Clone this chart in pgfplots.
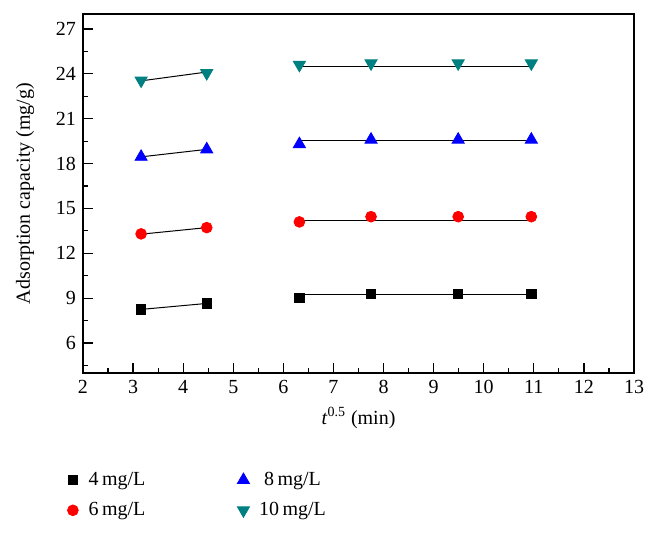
\documentclass[border=0pt]{standalone}
\usepackage{fontspec}
\setmainfont{Liberation Serif}
\usepackage{pgfplots}
\pgfplotsset{compat=1.18}
\definecolor{tealten}{RGB}{0,128,128}
\begin{document}
\begin{tikzpicture}
\path[use as bounding box] (0,0) rectangle (329pt,267pt);
\begin{axis}[
  at={(41.5pt,80.5pt)}, anchor=south west,
  scale only axis, width=275.5pt, height=179.5pt,
  xmin=2, xmax=13, ymin=4, ymax=28,
  xtick={2,...,13}, ytick={6,9,...,27},
  minor xtick={2.5,3.5,...,12.5}, minor ytick={4.5,7.5,...,25.5},
  tick align=inside, xtick pos=bottom, ytick pos=left,
  major tick length=5pt, minor tick length=2.5pt,
  axis line style={line width=0.75pt},
  every tick/.style={black, line width=0.6pt},
  /pgf/number format/assume math mode=true,
  xlabel={\textit{t}\textsuperscript{0.5} (min)},
  ylabel={Adsorption capacity (mg/g)},
  xlabel style={at={(axis description cs:0.5,-0.125)}, anchor=center},
  ylabel style={at={(axis description cs:-0.105,0.5)}, anchor=center},
  legend columns=2, transpose legend,
  legend style={at={(axis description cs:-0.041,-0.252)}, anchor=north west,
    draw=none, fill=none, /tikz/column 2/.style={column sep=44pt}, row sep=3pt},
  legend image code/.code={\path (0.05cm,0cm) (0.35cm,0cm);\draw[mark repeat=2,mark phase=2,#1] plot coordinates {(0.1cm,0cm)(0.15cm,0cm)(0.2cm,0cm)};},
]
% fit lines
\addplot[black, line width=0.5pt, forget plot] coordinates {(3.16,8.25)(4.47,8.65)};
\addplot[black, line width=0.5pt, forget plot] coordinates {(6.32,9.22)(10.95,9.22)};
\addplot[black, line width=0.5pt, forget plot] coordinates {(3.16,13.28)(4.47,13.72)};
\addplot[black, line width=0.5pt, forget plot] coordinates {(6.32,14.18)(10.95,14.18)};
\addplot[black, line width=0.5pt, forget plot] coordinates {(3.16,18.45)(4.47,18.95)};
\addplot[black, line width=0.5pt, forget plot] coordinates {(6.32,19.55)(10.95,19.55)};
\addplot[black, line width=0.5pt, forget plot] coordinates {(3.16,23.53)(4.47,24.12)};
\addplot[black, line width=0.5pt, forget plot] coordinates {(6.32,24.5)(10.95,24.5)};
% data
\addplot[only marks, mark=square*, mark size=2.3pt, draw=black, fill=black]
  coordinates {(3.16,8.25)(4.47,8.65)(6.32,9.0)(7.75,9.3)(9.49,9.3)(10.95,9.3)};
\addlegendentry{4\,mg/L}
\addplot[only marks, mark=*, mark size=2.7pt, draw=red, fill=red]
  coordinates {(3.16,13.3)(4.47,13.72)(6.32,14.1)(7.75,14.45)(9.49,14.45)(10.95,14.45)};
\addlegendentry{6\,mg/L}
\addplot[only marks, mark=triangle*, mark size=3.5pt, draw=blue, fill=blue]
  coordinates {(3.16,18.45)(4.47,18.95)(6.32,19.3)(7.75,19.6)(9.49,19.6)(10.95,19.6)};
\addlegendentry{8\,mg/L}
\addplot[only marks, mark=triangle*, mark options={rotate=180}, mark size=3.5pt, draw=tealten, fill=tealten]
  coordinates {(3.16,23.55)(4.47,24.05)(6.32,24.6)(7.75,24.7)(9.49,24.7)(10.95,24.7)};
\addlegendentry{10\,mg/L}
\end{axis}
\end{tikzpicture}
\end{document}
